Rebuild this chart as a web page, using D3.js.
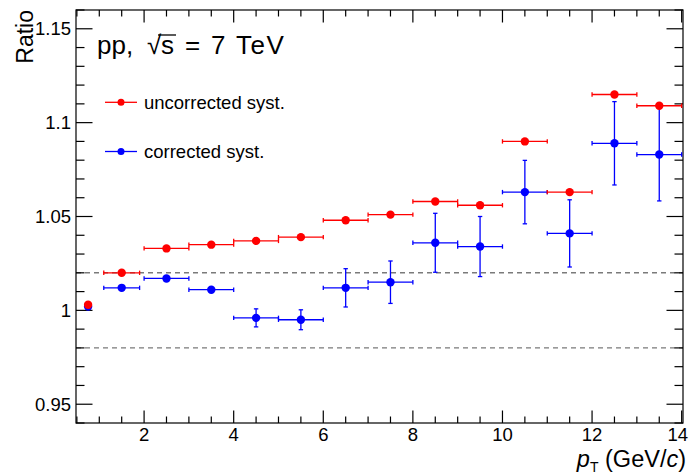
<!DOCTYPE html>
<html><head><meta charset="utf-8">
<script src="https://cdn.jsdelivr.net/npm/d3@7"></script>
<style>
body{margin:0;background:#fff}
svg{display:block}
text{font-family:"Liberation Sans",Arial,Helvetica,sans-serif;fill:#000}
</style>
</head><body>
<svg id="chart" width="689" height="475"></svg>
<script>
// ---- data ----
const binCenters   = [0.75, 1.5, 2.5, 3.5, 4.5, 5.5, 6.5, 7.5, 8.5, 9.5, 10.5, 11.5, 12.5, 13.5];
const binHalfWidth = [0.05, 0.4, 0.5, 0.5, 0.5, 0.5, 0.5, 0.5, 0.5, 0.5, 0.5, 0.5, 0.5, 0.5];
const uncorrected    = [1.003, 1.020, 1.033, 1.035, 1.037, 1.039, 1.048, 1.051, 1.058, 1.056, 1.090, 1.063, 1.115, 1.109];
const uncorrectedErr = [0, 0, 0, 0, 0, 0, 0, 0, 0, 0, 0, 0, 0, 0];
const corrected      = [1.002, 1.012, 1.017, 1.011, 0.996, 0.995, 1.012, 1.015, 1.036, 1.034, 1.063, 1.041, 1.089, 1.083];
const correctedErr   = [0.0005, 0.001, 0.001, 0.001, 0.0048, 0.0053, 0.0102, 0.0113, 0.0157, 0.016, 0.0169, 0.0179, 0.0222, 0.0247];
const xTickValues = [2, 4, 6, 8, 10, 12, 14];
const yTickValues = [0.95, 1, 1.05, 1.1, 1.15];
const bandLines = [1.02, 0.98];
const seriesNames = ["uncorrected syst.", "corrected syst."];
const seriesColors = ["#ff0000", "#0000ff"];

// ---- layout ----
const L = 76, R = 683, T = 10, B = 423;
const svg = d3.select("#chart");
const x = d3.scaleLinear().domain([0.48, 14.03]).range([L, R]);
const y = d3.scaleLinear().domain([0.94, 1.16]).range([B, T]);

const g = svg.append("g");

// dashed reference lines
g.selectAll("line.band").data(bandLines).join("line")
  .attr("x1", L).attr("x2", R)
  .attr("y1", d => y(d)).attr("y2", d => y(d))
  .attr("stroke", "#7a7a7a").attr("stroke-width", 1.4)
  .attr("stroke-dasharray", "5,4");

// frame
g.append("rect").attr("x", L).attr("y", T).attr("width", R - L).attr("height", B - T)
  .attr("fill", "none").attr("stroke", "#000").attr("stroke-width", 1.2);

// ticks
const xMinor = d3.range(0.5, 14.01, 0.5);
const yMinor = d3.range(0.94, 1.1601, 0.01).map(v => Math.round(v * 100) / 100);
const isXMajor = v => Math.abs(v / 2 - Math.round(v / 2)) < 1e-6;
const isYMajor = v => Math.abs(v * 20 - Math.round(v * 20)) < 1e-6;

const tk = g.append("g").attr("stroke", "#000").attr("stroke-width", 1.2);
xMinor.forEach(v => {
  const len = isXMajor(v) ? 12.5 : 6.5;
  tk.append("line").attr("x1", x(v)).attr("x2", x(v)).attr("y1", B).attr("y2", B - len);
  tk.append("line").attr("x1", x(v)).attr("x2", x(v)).attr("y1", T).attr("y2", T + len);
});
yMinor.forEach(v => {
  const len = isYMajor(v) ? 16.5 : 8.5;
  tk.append("line").attr("y1", y(v)).attr("y2", y(v)).attr("x1", L).attr("x2", L + len);
  tk.append("line").attr("y1", y(v)).attr("y2", y(v)).attr("x1", R).attr("x2", R - len);
});

// tick labels
const lastX = xTickValues[xTickValues.length - 1];
g.selectAll("text.xt").data(xTickValues).join("text")
  .attr("x", d => d === lastX ? 688 : x(d)).attr("y", 441)
  .attr("text-anchor", d => d === lastX ? "end" : "middle")
  .attr("font-size", 18.5).text(d => d);
g.selectAll("text.yt").data(yTickValues).join("text")
  .attr("x", 71).attr("y", d => y(d) + 6.5).attr("text-anchor", "end")
  .attr("font-size", 18.5).text(d => d3.format("")(d));

// axis titles
g.append("text").attr("transform", "translate(33,10) rotate(-90)")
  .attr("text-anchor", "end").attr("font-size", 23).text("Ratio");

const xl = g.append("text").attr("x", 686).attr("y", 467).attr("text-anchor", "end").attr("font-size", 23.5);
xl.append("tspan").attr("font-style", "italic").text("p");
xl.append("tspan").attr("font-size", 14).attr("dy", 5).text("T");
xl.append("tspan").attr("dy", -5).text(" (GeV/");
xl.append("tspan").attr("font-style", "italic").text("c");
xl.append("tspan").text(")");

// system label
const sl = g.append("text").attr("x", 97).attr("y", 54).attr("font-size", 26);
sl.append("tspan").text("pp,");
sl.append("tspan").attr("x", 147).text("\u221A");
sl.append("tspan").attr("x", 161).text("s");
sl.append("tspan").attr("x", 185).text("=");
sl.append("tspan").attr("x", 211).text("7");
sl.append("tspan").attr("x", 236).attr("letter-spacing", 1.5).text("TeV");
g.append("line").attr("x1", 158).attr("x2", 176).attr("y1", 35).attr("y2", 35)
  .attr("stroke", "#000").attr("stroke-width", 1.3);

// data series
const series = [
  {vals: corrected, err: correctedErr, color: seriesColors[1]},
  {vals: uncorrected, err: uncorrectedErr, color: seriesColors[0]}
];
series.forEach(s => {
  const sg = g.append("g");
  const pts = binCenters.map((c, i) => ({c, hw: binHalfWidth[i], v: s.vals[i], e: s.err[i]}));
  pts.forEach(p => {
    sg.append("line").attr("x1", x(p.c - p.hw)).attr("x2", x(p.c + p.hw))
      .attr("y1", y(p.v)).attr("y2", y(p.v)).attr("stroke", s.color).attr("stroke-width", 1.3);
    [p.c - p.hw, p.c + p.hw].forEach(xe => {
      sg.append("line").attr("x1", x(xe)).attr("x2", x(xe))
        .attr("y1", y(p.v) - 2.2).attr("y2", y(p.v) + 2.2).attr("stroke", s.color).attr("stroke-width", 1.3);
    });
    if (y(p.v - p.e) - y(p.v + p.e) > 8) {
      sg.append("line").attr("x1", x(p.c)).attr("x2", x(p.c))
        .attr("y1", y(p.v - p.e)).attr("y2", y(p.v + p.e)).attr("stroke", s.color).attr("stroke-width", 1.3);
      [p.v - p.e, p.v + p.e].forEach(ye => {
        sg.append("line").attr("x1", x(p.c) - 2.2).attr("x2", x(p.c) + 2.2)
          .attr("y1", y(ye)).attr("y2", y(ye)).attr("stroke", s.color).attr("stroke-width", 1.3);
      });
    }
  });
  sg.selectAll("circle").data(pts).join("circle")
    .attr("cx", d => x(d.c)).attr("cy", d => y(d.v)).attr("r", 4.2).attr("fill", s.color);
});

// legend
const legY = [102.3, 151.5];
seriesNames.forEach((name, i) => {
  const lg = g.append("g");
  lg.append("line").attr("x1", 105).attr("x2", 137).attr("y1", legY[i]).attr("y2", legY[i])
    .attr("stroke", seriesColors[i]).attr("stroke-width", 1.3);
  lg.append("circle").attr("cx", 121).attr("cy", legY[i]).attr("r", 3.5).attr("fill", seriesColors[i]);
  lg.append("text").attr("x", 144).attr("y", legY[i] + 6.3).attr("font-size", 18.5).text(name);
});
</script>
</body></html>
